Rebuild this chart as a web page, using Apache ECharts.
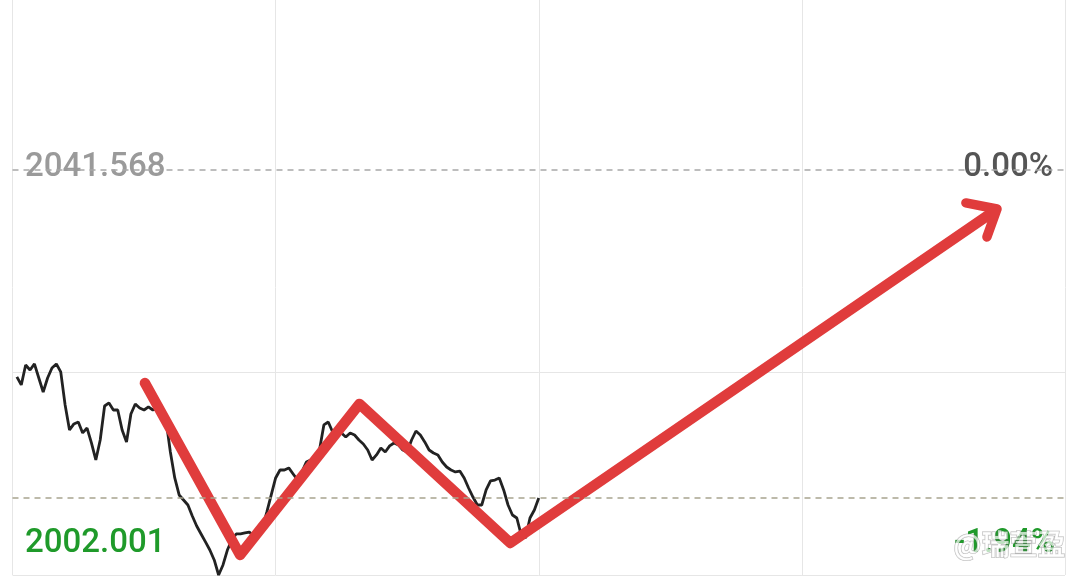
<!DOCTYPE html>
<html>
<head>
<meta charset="utf-8">
<script src="https://cdn.jsdelivr.net/npm/echarts@6/dist/echarts.min.js"></script>
<style>html,body{margin:0;padding:0;background:#fff;}#c{width:1078px;height:576px;}</style>
</head>
<body>
<div id="c"></div>
<script>
// previous close and day range
const prevClose = 2041.568;
const dayLow = 2002.001;
const lowPct = '-1.94%';
const highPct = '0.00%';
// minute prices of the morning session (index 0 = 9:30, no print)
const prices = [null,
2021.35,2020.57,2022.52,2022.03,2022.62,2021.25,2019.88,2021.25,2022.23,2022.62,
2021.84,2018.61,2016.17,2016.76,2016.95,2015.88,2016.36,2014.90,2013.24,2015.19,
2018.51,2018.81,2018.12,2018.12,2016.17,2015.00,2017.73,2018.71,2018.32,2018.12,
2018.42,2018.12,2018.22,2018.12,2017.15,2014.02,2011.48,2009.82,2009.33,2008.84,
2007.77,2006.79,2006.01,2005.23,2004.44,2003.47,2002.001,2002.98,2004.44,2005.42,
2006.01,2006.01,2006.11,2006.20,2005.81,2006.40,2006.59,2008.16,2009.82,2011.48,
2012.26,2012.26,2012.46,2011.87,2011.28,2012.07,2013.04,2013.24,2013.24,2014.21,
2016.66,2016.95,2015.97,2016.17,2015.88,2015.49,2015.88,2015.68,2015.19,2014.80,
2014.21,2013.24,2013.73,2014.41,2014.02,2014.61,2014.90,2014.71,2014.21,2014.02,
2015.19,2016.07,2015.68,2015.00,2014.21,2013.92,2013.73,2013.04,2012.55,2012.26,
2012.07,2012.16,2011.48,2010.50,2009.62,2008.84,2008.84,2010.31,2011.19,2011.28,
2011.48,2010.31,2008.84,2007.86,2007.57,2005.91,2005.62,2007.57,2008.35,2009.53
];
// hand-drawn red arrow annotation: [minute index, price]
const arrowShaft = [[30.2,2020.76],[51.9,2003.96],[79.1,2018.71],[113.5,2005.13],[223.6,2037.47]];
const arrowHead = [[217.4,2038.35],[224.5,2037.76],[222.2,2035.03]];

// time categories 9:30-11:30, 13:00-15:00 (241 slots)
const times = [];
function pad(n){return (n<10?'0':'')+n;}
for (let m = 0; m <= 120; m++) { const t = 9*60+30+m; times.push(Math.floor(t/60)+':'+pad(t%60)); }
for (let m = 1; m <= 120; m++) { const t = 13*60+m; times.push(Math.floor(t/60)+':'+pad(t%60)); }

const range = prevClose - dayLow;
// the screenshot is cropped: only the lower part of the symmetric price band is visible
const yMin = dayLow;
const yMax = 2058.176;
const lastPrice = prices[prices.length-1];

const chart = echarts.init(document.getElementById('c'));
chart.setOption({
  animation: false,
  backgroundColor: '#ffffff',
  grid: {left: 12.5, right: 13, top: 0, bottom: 1, containLabel: false},
  xAxis: [{
    type: 'category', data: times, boundaryGap: false,
    axisLine: {show: false}, axisTick: {show: false}, axisLabel: {show: false},
    splitLine: {show: true, interval: function(i){return i % 60 === 0;}, lineStyle: {color: '#e6e6e6', width: 1}}
  }, {
    type: 'value', min: 0, max: 240, show: false
  }],
  yAxis: {
    type: 'value', min: yMin, max: yMax, interval: range/2,
    axisLine: {show: false}, axisTick: {show: false}, axisLabel: {show: false},
    splitLine: {show: true, lineStyle: {color: ['#e6e6e6','#e6e6e6','rgba(0,0,0,0)','rgba(0,0,0,0)','rgba(0,0,0,0)'], width: 1}}
  },
  series: [{
    type: 'line', data: prices, xAxisIndex: 0, showSymbol: false, symbol: 'none',
    lineStyle: {color: '#222222', width: 2.8}, clip: false,
    markLine: {
      silent: true, symbol: 'none', label: {show: false},
      data: [
        {yAxis: prevClose, lineStyle: {color: '#a8a8a8', type: [6,5], width: 1.5}},
        {yAxis: lastPrice, lineStyle: {color: '#a8a48e', type: [6,5], width: 1.5}}
      ]
    }
  }, {
    type: 'line', data: arrowShaft, xAxisIndex: 1, showSymbol: false, symbol: 'none',
    lineStyle: {color: '#e03c3c', width: 10.5, cap: 'round', join: 'round'}, clip: false
  }, {
    type: 'line', data: arrowHead, xAxisIndex: 1, showSymbol: false, symbol: 'none',
    lineStyle: {color: '#e03c3c', width: 9.5, cap: 'round', join: 'round'}, clip: false
  }],
  graphic: [
    {type: 'text', left: 25, top: 151, style: {text: prevClose.toFixed(3), font: '500 33px Roboto', fill: '#9a9a9a'}},
    {type: 'text', right: 25, top: 151, style: {text: highPct, font: '500 33px Roboto', fill: '#555555'}},
    {type: 'text', left: 25, top: 527, style: {text: dayLow.toFixed(3), font: '500 33px Roboto', fill: '#1f9a2a'}},
    {type: 'text', right: 23, top: 527, style: {text: lowPct, font: '500 33px Roboto', fill: '#1f9a2a'}},
    {type: 'text', right: 12, top: 530, style: {text: '@瑞萱盈', font: 'bold 28px "Noto Sans CJK SC"', fill: 'rgba(255,255,255,0.7)', stroke: 'rgba(110,110,110,0.5)', lineWidth: 1}}
  ]
});
</script>
</body>
</html>
